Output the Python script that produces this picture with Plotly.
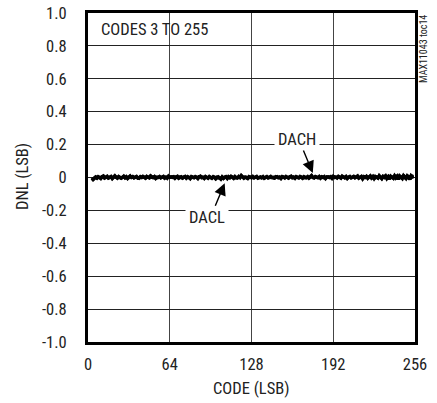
import plotly.graph_objects as go

codes = list(range(3, 256))

dnl_dacl = [
    -.020, -.012, -.006, .002, -.004, .005, .001, -.006, .004, .009, -.002, .001, .007, -.004, .000, .004,
    -.007, .003, .010, .001, -.003, .006, .002, -.005, .000, .008, -.001, .003, -.006, .002, .009, .000,
    .004, -.003, .001, .006, -.002, -.005, .003, .000, .007, .002, -.004, .005, .001, -.002, .010, .003,
    -.001, .004, -.006, .002, .000, .006, -.003, .001, .005, -.002, .003, -.004, .008, .000, .002, -.001,
    .005, -.003, .002, .007, -.005, .001, .004, -.002, .000, .006, -.004, .003, .001, -.007, .004, .002,
    -.002, .005, .000, -.004, .003, .008, -.001, .002, -.006, .004, .001, -.003, .006, .000, -.005, .003,
    .002, -.008, .001, .004, -.003, -.010, .002, -.006, .000, .005, -.004, .003, -.002, .007, .001, -.005,
    .004, .000, -.003, .006, -.001, .012, .002, -.004, .003, .000, -.006, .005, .001, -.002, .004, -.003,
    .002, .006, -.004, .000, .003, -.002, .005, -.005, .001, .004, -.003, .002, .007, -.001, .000, -.004,
    .003, .005, -.002, .001, -.006, .004, .002, -.003, .006, .000, -.004, .003, .008, -.002, .001, -.005,
    .004, .000, -.003, .006, .002, -.005, .003, .001, -.002, .005, -.004, .002, .009, .000, -.003, .004,
    .001, -.002, .006, -.004, .003, .000, .005, -.006, .002, .004, -.001, .003, -.005, .007, .000, .002,
    -.003, .005, .001, -.004, .008, .002, -.002, .004, -.006, .001, .006, -.003, .000, .005, -.002, .003,
    .009, -.004, .001, .006, -.008, .003, .000, .007, -.005, .002, .010, -.003, .004, -.009, .006, .001,
    -.004, .011, .002, -.007, .005, .000, .012, -.006, .003, -.010, .008, .001, -.005, .013, -.002, .006,
    -.011, .009, .002, -.006, .014, .000, -.008, .010, .003, -.012, .011, .004, .008,
]

dnl_dach = [
    -.016, -.010, -.003, .004, -.002, .003, -.001, -.004, .006, .007, -.003, .002, .005, -.002, .001, .006,
    -.005, .001, .008, .003, -.004, .004, .000, -.003, .002, .006, -.002, .005, -.004, .000, .007, .002,
    .006, -.001, .003, .004, -.004, -.003, .005, .001, .005, .000, -.002, .007, .003, -.001, .008, .001,
    .001, .006, -.004, .000, .002, .004, -.001, .003, .007, -.004, .001, -.002, .006, .002, .004, .000,
    .003, -.005, .004, .005, -.003, .003, .002, -.004, .002, .004, -.002, .005, -.001, -.005, .006, .000,
    .000, .003, .002, -.006, .005, .006, .001, .000, -.004, .006, -.001, -.005, .004, .002, -.003, .005,
    .000, -.006, .003, .002, -.005, -.007, .004, -.004, .002, .003, -.006, .005, .000, .005, .003, -.003,
    .006, -.002, -.001, .004, .001, .010, .004, -.002, .001, .002, -.004, .003, .003, .000, .006, -.001,
    .004, .004, -.002, .002, .001, .000, .003, -.003, .003, .006, -.001, .000, .005, .001, .002, -.002,
    .005, .003, .000, .003, -.004, .006, .000, -.001, .004, .002, -.002, .005, .006, .000, .003, -.003,
    .006, .002, -.001, .004, .004, -.003, .005, -.001, .000, .003, -.002, .004, .012, .002, -.001, .006,
    .003, .000, .004, -.002, .005, .002, .003, -.004, .004, .002, .001, .005, -.003, .005, .002, .000,
    -.001, .007, .003, -.002, .006, .004, .000, .006, -.004, .003, .004, -.001, .002, .007, .000, .005,
    .007, -.002, .003, .004, -.006, .005, .002, .005, -.003, .004, .008, -.001, .006, -.007, .004, .003,
    -.002, .009, .004, -.005, .007, .002, .010, -.004, .005, -.008, .006, .003, -.003, .011, .000, .008,
    -.009, .007, .004, -.004, .012, .002, -.006, .008, .005, -.010, .009, .006, .006,
]

x_ticks = [0, 64, 128, 192, 256]
y_ticks = [1.0, 0.8, 0.6, 0.4, 0.2, 0.0, -0.2, -0.4, -0.6, -0.8, -1.0]
y_tick_labels = ["1.0", "0.8", "0.6", "0.4", "0.2", "0", "-0.2", "-0.4", "-0.6", "-0.8", "-1.0"]

FONT = "Roboto Condensed, DejaVu Sans Condensed, sans-serif"
FS = 16.5

fig = go.Figure()
fig.add_trace(go.Scatter(x=codes, y=dnl_dacl, mode="lines", name="DACL",
                         line=dict(color="black", width=3.4)))
fig.add_trace(go.Scatter(x=codes, y=dnl_dach, mode="lines", name="DACH",
                         line=dict(color="black", width=3.4)))

fig.update_layout(
    width=437, height=403,
    margin=dict(l=88, r=22, t=13, b=61),
    paper_bgcolor="white", plot_bgcolor="white",
    showlegend=False,
    font=dict(family=FONT, size=FS, color="#222"),
)
fig.update_xaxes(
    range=[0, 256], tickvals=x_ticks, ticktext=[str(v) for v in x_ticks],
    showgrid=True, gridcolor="#444", gridwidth=1, zeroline=False,
    showline=True, linecolor="black", linewidth=3, mirror=True,
    ticks="outside", ticklen=5, tickcolor="rgba(0,0,0,0)", automargin=False,
)
fig.update_yaxes(
    range=[-1, 1], tickvals=y_ticks, ticktext=y_tick_labels,
    showgrid=True, gridcolor="#222", gridwidth=1, zeroline=False,
    showline=True, linecolor="black", linewidth=3, mirror=True,
    ticks="outside", ticklen=15, tickcolor="rgba(0,0,0,0)", automargin=False,
)

plot_l, plot_r, plot_t, plot_b = 88, 415, 13, 342


def px_x(px):
    return (px - plot_l) / (plot_r - plot_l)


def px_y(py):
    return 1 - (py - plot_t) / (plot_b - plot_t)


annotations = [
    dict(x=8.6, y=0.897, xref="x", yref="y", text="CODES 3 TO 255", showarrow=False,
         xanchor="left", yanchor="middle", font=dict(size=FS)),
    dict(x=164, y=0.234, xref="x", yref="y", text="DACH", showarrow=False,
         bgcolor="white", borderpad=3, font=dict(size=FS)),
    dict(x=176, y=0.027, xref="x", yref="y", text="", showarrow=True,
         ax=-10, ay=-24, arrowhead=2, arrowsize=1.7, arrowwidth=1.4, arrowcolor="black"),
    dict(x=93, y=-0.246, xref="x", yref="y", text="DACL", showarrow=False,
         bgcolor="white", borderpad=3, font=dict(size=FS)),
    dict(x=107, y=-0.035, xref="x", yref="y", text="", showarrow=True,
         ax=-10, ay=24, arrowhead=2, arrowsize=1.7, arrowwidth=1.4, arrowcolor="black"),
    dict(x=px_x(423), y=px_y(49), xref="paper", yref="paper", text="MAX11043 toc14", showarrow=False,
         textangle=-90, font=dict(size=10), xanchor="center", yanchor="middle"),
    dict(x=px_x(251), y=px_y(388), xref="paper", yref="paper", text="CODE (LSB)", showarrow=False,
         xanchor="center", yanchor="middle", font=dict(size=FS)),
    dict(x=px_x(22), y=px_y(177), xref="paper", yref="paper", text="DNL (LSB)", showarrow=False,
         xanchor="center", yanchor="middle", textangle=-90, font=dict(size=FS)),
]
fig.update_layout(annotations=annotations)

fig.write_html("out.html", config={"displayModeBar": False},
               post_script="document.body.style.margin='0';")
